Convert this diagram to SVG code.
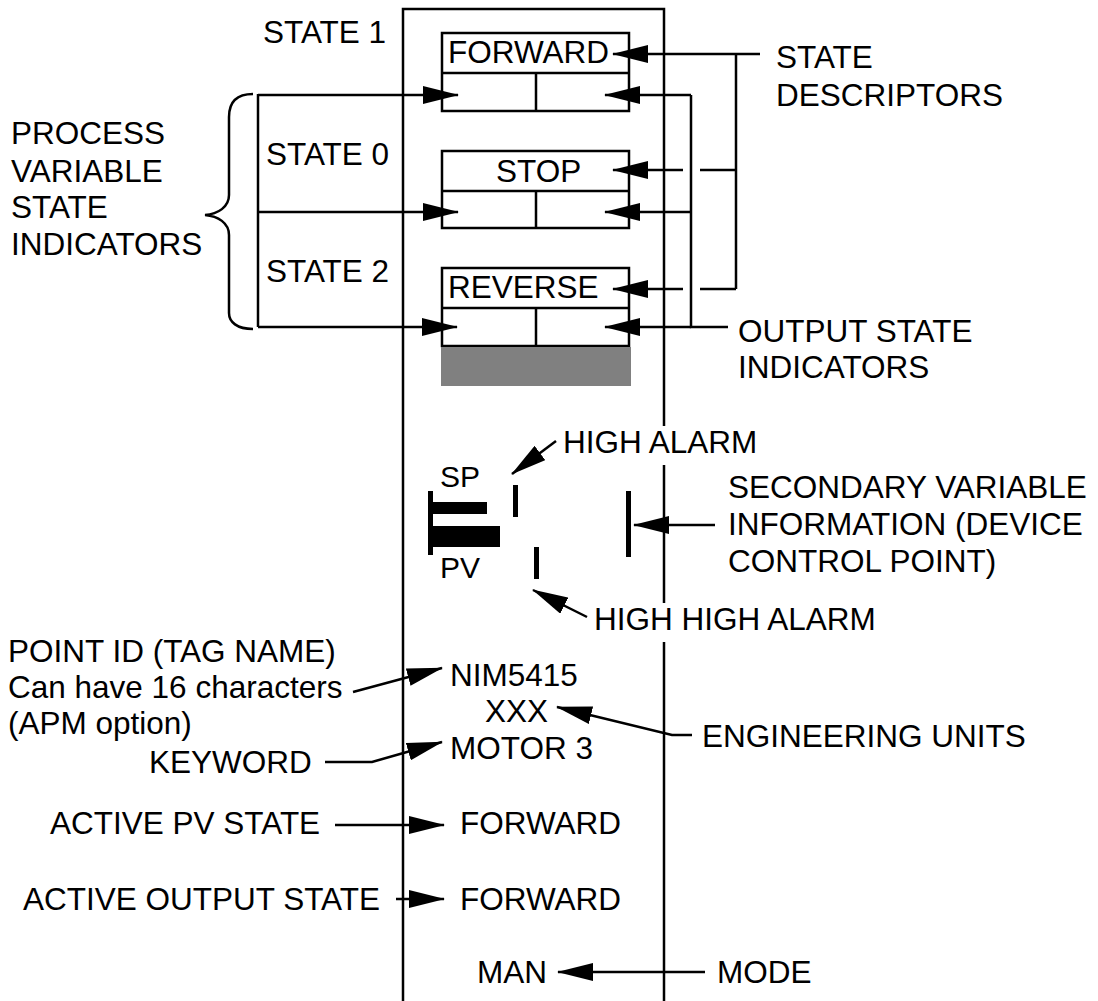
<svg xmlns="http://www.w3.org/2000/svg" width="1098" height="1001" viewBox="0 0 1098 1001">
<style>
text{font-family:"Liberation Sans",Arial,sans-serif;font-size:31.5px;fill:#000}
.ln{stroke:#000;stroke-width:2.5;fill:none}
.ar{stroke:#000;stroke-width:2.5;fill:none;marker-end:url(#ah)}
.box{stroke:#000;stroke-width:2.5;fill:#fff}
.bar{fill:#000}
</style>
<defs>
<marker id="ah" markerUnits="userSpaceOnUse" viewBox="0 0 36 18" refX="35" refY="9" markerWidth="36" markerHeight="18" orient="auto">
<path d="M0,0 L36,9 L0,18 z" fill="#000"/>
</marker>
</defs>
<rect width="1098" height="1001" fill="#fff"/>

<g id="panel">
<path class="ln" d="M403,1001 V9 H664 V426 M664,465 V603 M664,642 V1001"/>
</g>

<g id="state1-box">
<rect class="box" x="442" y="33" width="187" height="78"/>
<path class="ln" d="M442,73 H629 M536,73 V111"/>
<text x="448" y="63">FORWARD</text>
</g>
<g id="state0-box">
<rect class="box" x="442" y="151" width="187" height="77"/>
<path class="ln" d="M442,191 H629 M536,191 V228"/>
<text x="496" y="182">STOP</text>
</g>
<g id="state2-box">
<rect class="box" x="442" y="268" width="187" height="78"/>
<path class="ln" d="M442,308 H629 M536,308 V346"/>
<text x="448" y="298">REVERSE</text>
</g>
<g id="gray-band">
<rect x="441" y="347" width="190" height="39" fill="#808080"/>
</g>

<g id="bars">
<rect class="bar" x="428" y="491" width="5" height="64"/>
<rect class="bar" x="433" y="502" width="54" height="12"/>
<rect class="bar" x="433" y="526" width="67" height="21"/>
<rect class="bar" x="513" y="485" width="5" height="32"/>
<rect class="bar" x="534" y="547" width="5" height="32"/>
<rect class="bar" x="626" y="491" width="5" height="66"/>
<text x="440" y="487" style="font-size:30px">SP</text>
<text x="440" y="578" style="font-size:30px">PV</text>
</g>

<g id="pv-values">
<text x="450" y="686">NIM5415</text>
<text x="485" y="722">XXX</text>
<text x="450" y="759">MOTOR 3</text>
<text x="460" y="834">FORWARD</text>
<text x="460" y="910">FORWARD</text>
<text x="477" y="983">MAN</text>
</g>

<g id="labels-left">
<text x="263" y="43">STATE 1</text>
<text x="266" y="165">STATE 0</text>
<text x="266" y="282">STATE 2</text>
<text x="11" y="144">PROCESS</text>
<text x="11" y="182">VARIABLE</text>
<text x="11" y="218">STATE</text>
<text x="11" y="255">INDICATORS</text>
<path class="ln" d="M253,94 C237,94 229,102 229,117 L229,195 C229,207 218,214 205,215 C218,216 229,223 229,235 L229,313 C229,322 237,329 253,329"/>
<text x="8" y="662">POINT ID (TAG NAME)</text>
<text x="8" y="698">Can have 16 characters</text>
<text x="8" y="734">(APM option)</text>
<text x="149" y="773">KEYWORD</text>
<text x="50" y="834">ACTIVE PV STATE</text>
<text x="23" y="910">ACTIVE OUTPUT STATE</text>
</g>

<g id="labels-right">
<text x="776" y="68">STATE</text>
<text x="776" y="106">DESCRIPTORS</text>
<text x="738" y="342">OUTPUT STATE</text>
<text x="738" y="378">INDICATORS</text>
<text x="563" y="453">HIGH ALARM</text>
<text x="728" y="498">SECONDARY VARIABLE</text>
<text x="728" y="535">INFORMATION (DEVICE</text>
<text x="728" y="572">CONTROL POINT)</text>
<text x="594" y="630">HIGH HIGH ALARM</text>
<text x="702" y="747">ENGINEERING UNITS</text>
<text x="717" y="983">MODE</text>
</g>

<g id="connectors">
<!-- process variable state indicators -->
<path class="ln" d="M258,94 V327"/>
<path class="ar" d="M258,95 H458"/>
<path class="ar" d="M258,212 H458"/>
<path class="ar" d="M258,327 H457"/>
<!-- state descriptors -->
<path class="ln" d="M736,54 V289 M736,170 H700 M736,289 H700"/>
<path class="ar" d="M760,54 H613"/>
<path class="ar" d="M683,170 H613"/>
<path class="ar" d="M683,289 H613"/>
<!-- output state indicators -->
<path class="ln" d="M691,95 V327 H728"/>
<path class="ar" d="M691,95 H605"/>
<path class="ar" d="M691,212 H605"/>
<path class="ar" d="M691,327 H605"/>
<!-- alarms -->
<path class="ar" d="M556,441 L512,474"/>
<path class="ar" d="M587,617 L533,590"/>
<path class="ar" d="M715,525 H634"/>
<!-- bottom -->
<path class="ar" d="M353,692 L442,668"/>
<path class="ar" d="M325,762 H372 L442,742"/>
<path class="ar" d="M692,735 H672 L557,707"/>
<path class="ar" d="M335,825 H444"/>
<path class="ar" d="M396,899 H444"/>
<path class="ar" d="M705,972 H558"/>
</g>
</svg>
